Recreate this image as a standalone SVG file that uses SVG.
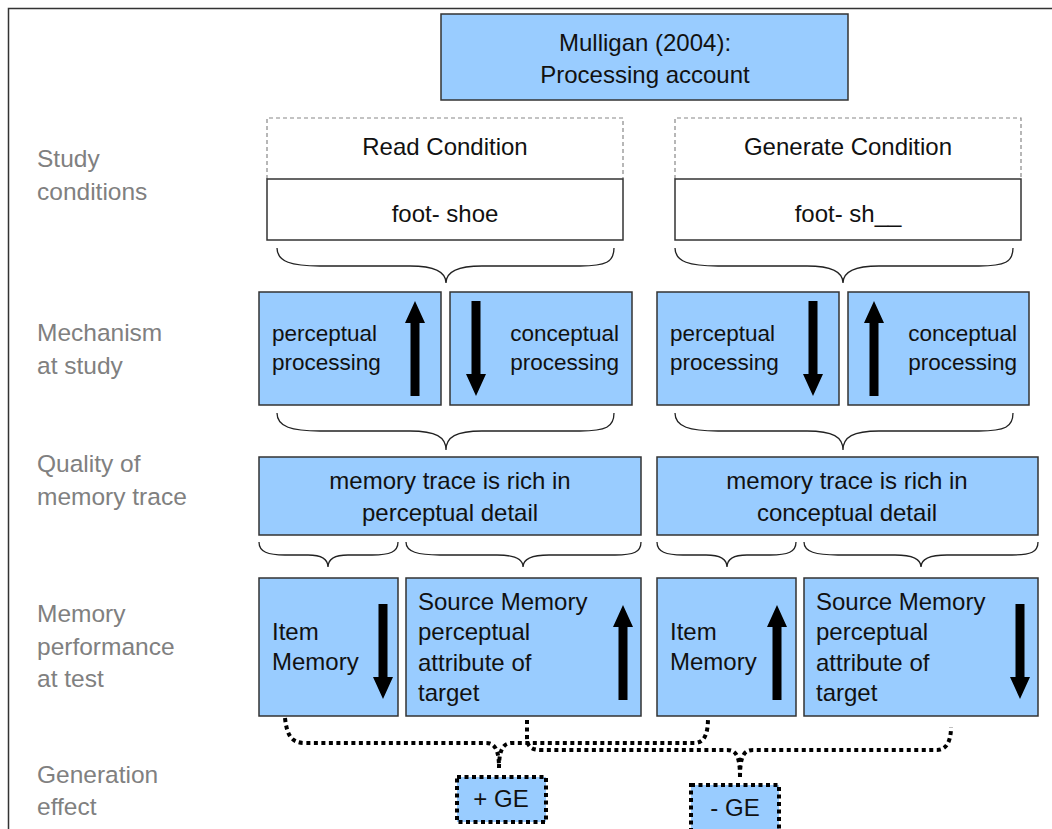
<svg xmlns="http://www.w3.org/2000/svg" width="1052" height="829" viewBox="0 0 1052 829">
  <style>
    text { font-family: "Liberation Sans", Arial, sans-serif; fill: #111; }
    .t24 { font-size: 24px; }
    .t22 { font-size: 22.5px; }
    .mid { text-anchor: middle; }
    .end { text-anchor: end; }
    .label { font-size: 24.5px; fill: #808080; }
    .box { fill: #99CCFF; stroke: #333; stroke-width: 1.5; }
    .cond-top { fill: #fff; stroke: #888; stroke-width: 1.2; stroke-dasharray: 4 3; }
    .cond-bot { fill: #fff; stroke: #333; stroke-width: 1.5; }
    .brace { fill: none; stroke: #222; stroke-width: 1.3; }
    .dots { fill: none; stroke: #000; stroke-width: 4; stroke-dasharray: 4 3.5; }
    .ge { fill: #99CCFF; stroke: #000; stroke-width: 4; stroke-dasharray: 4 3.5; }
    .arrow { fill: #000; }
  </style>
  <defs>
    <path id="arrow-up" class="arrow" d="M0,0 L10,22 L4.5,22 L4.5,95 L-4.5,95 L-4.5,22 L-10,22 Z"/>
    <path id="arrow-down" class="arrow" d="M0,95 L10,73 L4.5,73 L4.5,0 L-4.5,0 L-4.5,73 L-10,73 Z"/>
  </defs>

  <rect width="1052" height="829" fill="#fff"/>
  <!-- frame -->
  <path d="M8.5,829 L8.5,8.5 L1052,8.5" fill="none" stroke="#333" stroke-width="1.5"/>

  <!-- row labels -->
  <g id="row-labels">
    <text class="label" x="37" y="167">Study</text>
    <text class="label" x="37" y="200">conditions</text>
    <text class="label" x="37" y="341">Mechanism</text>
    <text class="label" x="37" y="374">at study</text>
    <text class="label" x="37" y="472">Quality of</text>
    <text class="label" x="37" y="505">memory trace</text>
    <text class="label" x="37" y="622">Memory</text>
    <text class="label" x="37" y="655">performance</text>
    <text class="label" x="37" y="687">at test</text>
    <text class="label" x="37" y="783">Generation</text>
    <text class="label" x="37" y="815">effect</text>
  </g>

  <!-- title -->
  <g id="title">
    <rect class="box" x="441" y="14" width="407" height="86"/>
    <text class="t24 mid" x="645" y="51">Mulligan (2004):</text>
    <text class="t24 mid" x="645" y="83">Processing account</text>
  </g>

  <!-- study conditions -->
  <g id="read-condition">
    <path class="cond-top" d="M267,179 L267,118 L623,118 L623,179"/>
    <rect class="cond-bot" x="267" y="179" width="356" height="61"/>
    <text class="t24 mid" x="445" y="155">Read Condition</text>
    <text class="t24 mid" x="445" y="222">foot- shoe</text>
  </g>
  <g id="generate-condition">
    <path class="cond-top" d="M675,179 L675,118 L1021,118 L1021,179"/>
    <rect class="cond-bot" x="675" y="179" width="346" height="61"/>
    <text class="t24 mid" x="848" y="155">Generate Condition</text>
    <text class="t24 mid" x="848" y="222">foot- sh__</text>
  </g>

  <!-- mechanism at study -->
  <g id="read-perceptual">
    <rect class="box" x="259" y="292" width="182" height="113"/>
    <text class="t22" x="272" y="341">perceptual</text>
    <text class="t22" x="272" y="370">processing</text>
    <use href="#arrow-up" x="415" y="301"/>
  </g>
  <g id="read-conceptual">
    <rect class="box" x="450" y="292" width="182" height="113"/>
    <text class="t22 end" x="619" y="341">conceptual</text>
    <text class="t22 end" x="619" y="370">processing</text>
    <use href="#arrow-down" x="476" y="301"/>
  </g>
  <g id="generate-perceptual">
    <rect class="box" x="657" y="292" width="182" height="113"/>
    <text class="t22" x="670" y="341">perceptual</text>
    <text class="t22" x="670" y="370">processing</text>
    <use href="#arrow-down" x="813" y="301"/>
  </g>
  <g id="generate-conceptual">
    <rect class="box" x="848" y="292" width="181" height="113"/>
    <text class="t22 end" x="1017" y="341">conceptual</text>
    <text class="t22 end" x="1017" y="370">processing</text>
    <use href="#arrow-up" x="874" y="301"/>
  </g>

  <!-- quality of memory trace -->
  <g id="read-trace">
    <rect class="box" x="259" y="457" width="382" height="78"/>
    <text class="t24 mid" x="450" y="489">memory trace is rich in</text>
    <text class="t24 mid" x="450" y="521">perceptual detail</text>
  </g>
  <g id="generate-trace">
    <rect class="box" x="657" y="457" width="381" height="78"/>
    <text class="t24 mid" x="847" y="489">memory trace is rich in</text>
    <text class="t24 mid" x="847" y="521">conceptual detail</text>
  </g>

  <!-- memory performance at test -->
  <g id="read-item">
    <rect class="box" x="259" y="578" width="139" height="138"/>
    <text class="t24" x="272" y="640">Item</text>
    <text class="t24" x="272" y="670">Memory</text>
    <use href="#arrow-down" x="383" y="604"/>
  </g>
  <g id="read-source">
    <rect class="box" x="406" y="578" width="235" height="138"/>
    <text class="t24" x="418" y="610">Source Memory</text>
    <text class="t24" x="418" y="640">perceptual</text>
    <text class="t24" x="418" y="671">attribute of</text>
    <text class="t24" x="418" y="701">target</text>
    <use href="#arrow-up" x="623" y="605"/>
  </g>
  <g id="generate-item">
    <rect class="box" x="657" y="578" width="139" height="138"/>
    <text class="t24" x="670" y="640">Item</text>
    <text class="t24" x="670" y="670">Memory</text>
    <use href="#arrow-up" x="777" y="605"/>
  </g>
  <g id="generate-source">
    <rect class="box" x="804" y="578" width="234" height="138"/>
    <text class="t24" x="816" y="610">Source Memory</text>
    <text class="t24" x="816" y="640">perceptual</text>
    <text class="t24" x="816" y="671">attribute of</text>
    <text class="t24" x="816" y="701">target</text>
    <use href="#arrow-down" x="1020" y="604"/>
  </g>

  <!-- generation effect -->
  <g id="plus-ge">
    <rect class="ge" x="457" y="777" width="89" height="45"/>
    <text class="t24 mid" x="501" y="807">+ GE</text>
  </g>
  <g id="minus-ge">
    <rect class="ge" x="691" y="785" width="88" height="48"/>
    <text class="t24 mid" x="735" y="816">- GE</text>
  </g>

  <!-- connectors: braces and dotted links -->
  <g id="connectors">
    <path class="brace" d="M277,248 C277,262 292,266 320,266 L410,266 C436,266 446,272 446,283 C446,272 456,266 482,266 L580,266 C606,266 614,262 614,248"/>
    <path class="brace" d="M675,248 C675,262 690,266 718,266 L807,266 C833,266 843,272 843,283 C843,272 853,266 879,266 L979,266 C1005,266 1013,262 1013,248"/>
    <path class="brace" d="M277,413 C277,427 292,431 320,431 L410,431 C436,431 446,437 446,450 C446,437 456,431 482,431 L580,431 C606,431 614,427 614,413"/>
    <path class="brace" d="M675,413 C675,427 690,431 718,431 L807,431 C833,431 843,437 843,450 C843,437 853,431 879,431 L979,431 C1005,431 1013,427 1013,413"/>
    <path class="brace" d="M259,542 C259,552 268,555 285,555 L308,555 C322,555 328,559 328,567 C328,559 334,555 348,555 L372,555 C390,555 398,552 398,542"/>
    <path class="brace" d="M406,542 C406,552 418,555 440,555 L497,555 C515,555 523,559 523,567 C523,559 531,555 549,555 L615,555 C634,555 641,552 641,542"/>
    <path class="brace" d="M657,542 C657,552 666,555 683,555 L706,555 C720,555 727,559 727,567 C727,559 733,555 747,555 L770,555 C788,555 796,552 796,542"/>
    <path class="brace" d="M804,542 C804,552 816,555 838,555 L895,555 C913,555 921,559 921,567 C921,559 929,555 947,555 L1012,555 C1031,555 1038,552 1038,542"/>

    <path class="dots" d="M285,718 C287,736 292,743 305,743 L486,743 C495,743 499,750 499,768"/>
    <path class="dots" d="M499,768 C499,750 503,743 512,743 L694,743 C704,743 708,735 708,718"/>
    <path class="dots" d="M527,720 L527,738 C527,746 531,750 541,750 L727,750 C736,750 740,756 740,777"/>
    <path class="dots" d="M740,777 C740,756 744,750 753,750 L937,750 C946,750 951,742 951,727"/>
  </g>
</svg>
